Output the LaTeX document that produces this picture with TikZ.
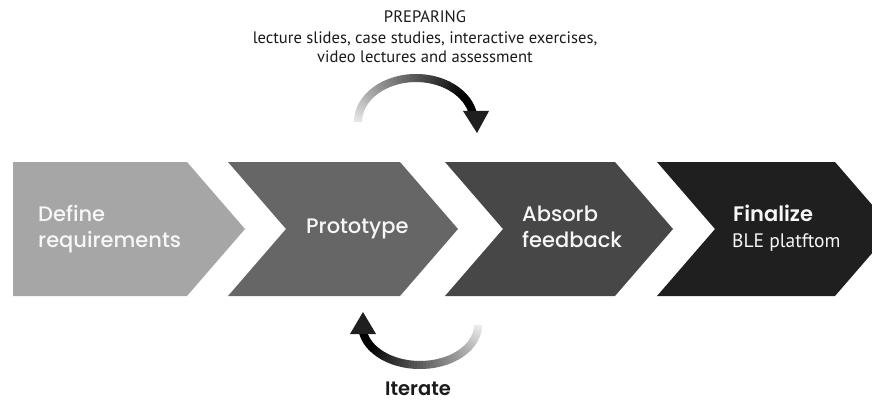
\documentclass[tikz,border=0pt]{standalone}
\usepackage{fontspec}
\usetikzlibrary{calc}
\setmainfont{PT Sans}
\newfontfamily\popm{Poppins Medium}
\newfontfamily\popsb{Poppins SemiBold}
\definecolor{cA}{HTML}{A6A6A6}
\definecolor{cB}{HTML}{666666}
\definecolor{cC}{HTML}{474747}
\definecolor{cD}{HTML}{1F1F1F}
\definecolor{txtW}{HTML}{F7F7F7}
\definecolor{txtK}{HTML}{1A1A1A}
\tikzset{
  boxlabel/.style={anchor=base west, inner sep=0pt, text=txtW, font=\popm\fontsize{21}{21}\selectfont},
  boxlabelsb/.style={anchor=base west, inner sep=0pt, text=txtW, font=\popsb\fontsize{21}{21}\selectfont},
  boxsub/.style={anchor=base west, inner sep=0pt, text=txtW, font=\fontsize{19.5}{19.5}\selectfont},
  toptext/.style={anchor=base, inner sep=0pt, text=txtK, font=\fontsize{16.6}{16.6}\selectfont},
}
\begin{document}
\begin{tikzpicture}[x=1pt,y=-1pt]
\useasboundingbox (0,0) rectangle (872,401);
\clip (0,0) rectangle (872,401);
% chevrons
\fill[cA] (13,162) -- (187,162) -- (245,229) -- (187,296) -- (13,296) -- cycle;
\fill[cB] (228,162) -- (400,162) -- (458,229) -- (400,296) -- (228,296) -- (286,229) -- cycle;
\fill[cC] (445,162) -- (615,162) -- (673,229) -- (615,296) -- (445,296) -- (503,229) -- cycle;
\fill[cD] (657,162) -- (835,162) -- (893,229) -- (835,296) -- (657,296) -- (715,229) -- cycle;
% labels
\node[boxlabel] (d1) at (38,221) {Define};
\node[boxlabel] (d2) at (38,247) {requirements};
\node[boxlabel] (p1) at (306,233) {Prototype};
\node[boxlabel] (a1) at (522,221) {Absorb};
\node[boxlabel] (a2) at (522,247) {feedback};
\node[boxlabelsb] (f1) at (733,221) {Finalize};
\node[boxsub] (f2) at (732,247) {BLE platftom};
% top text
\node[toptext] (t1) at (425,23) {PREPARING};
\node[toptext] (t2) at (425,43.5) {lecture slides, case studies, interactive exercises,};
\node[toptext] (t3) at (425,63) {video lectures and assessment};
% bottom text
\node[anchor=base, inner sep=0pt, text depth=0pt, text=txtK, font=\popsb\fontsize{19.5}{19.5}\selectfont] (it) at (418,395) {Iterate};
% top gradient arc
\foreach \i in {0,...,55}{
  \pgfmathsetmacro{\a}{180+\i*3}
  \pgfmathsetmacro{\b}{\a+3.6}
  \pgfmathsetmacro{\p}{min(100,10+\i*1.9)}
  \draw[line width=8pt, draw=black!\p!white] ($(416,122)+(\a:58 and 44)$) arc[start angle=\a, end angle=\b, x radius=58, y radius=44];
}
\fill[black!88] (463,111) -- (489,111) -- (477,133) -- cycle;
% bottom gradient arc
\foreach \i in {0,...,56}{
  \pgfmathsetmacro{\a}{\i*3}
  \pgfmathsetmacro{\b}{\a+3.6}
  \pgfmathsetmacro{\p}{min(100,8+\i*1.9)}
  \draw[line width=8pt, draw=black!\p!white] ($(420,325)+(\a:58 and 40)$) arc[start angle=\a, end angle=\b, x radius=58, y radius=40];
}
\fill[black!88] (350,334) -- (376,334) -- (363,312) -- cycle;
\end{tikzpicture}
\end{document}
